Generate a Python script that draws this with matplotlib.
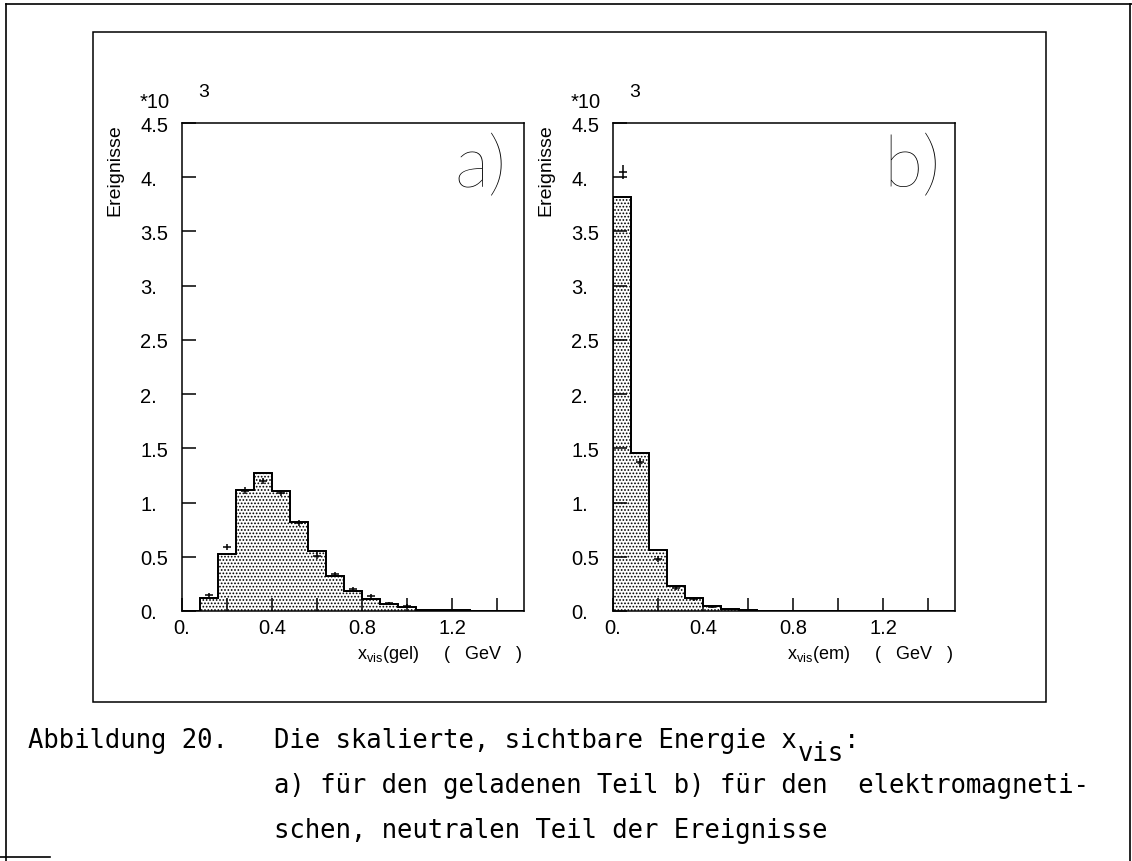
import matplotlib
matplotlib.use("Agg")
import matplotlib.pyplot as plt
from matplotlib.lines import Line2D
from matplotlib.patches import Rectangle

W, H = 1132, 862

# histogram binning (GeV), 0.08 wide
bin_edges = [0.0, 0.08, 0.16, 0.24, 0.32, 0.40, 0.48, 0.56, 0.64, 0.72,
             0.80, 0.88, 0.96, 1.04, 1.12, 1.20, 1.28, 1.36, 1.44, 1.52]

# a) charged part, units of 10^3 events
gel_counts = [0.0, 0.12, 0.53, 1.12, 1.27, 1.11, 0.82, 0.55, 0.32, 0.18,
              0.11, 0.065, 0.04, 0.012, 0.005, 0.005, 0.003, 0.003, 0.003]
gel_pts_x = [0.12, 0.20, 0.28, 0.36, 0.44, 0.52, 0.60, 0.68, 0.76, 0.84, 0.92, 1.00]
gel_pts_y = [0.15, 0.59, 1.11, 1.20, 1.09, 0.81, 0.51, 0.34, 0.20, 0.14, 0.07, 0.05]
gel_pts_err = [0.02, 0.03, 0.03, 0.03, 0.03, 0.03, 0.03, 0.02, 0.02, 0.02, 0.015, 0.015]

# b) electromagnetic, neutral part
em_counts = [3.82, 1.46, 0.56, 0.23, 0.12, 0.05, 0.02, 0.005, 0.003, 0.003,
             0.003, 0.003, 0.003, 0.003, 0.003, 0.003, 0.003, 0.003, 0.003]
em_pts_x = [0.045, 0.12, 0.20, 0.28, 0.36, 0.44]
em_pts_y = [4.05, 1.37, 0.48, 0.21, 0.11, 0.04]
em_pts_err = [0.065, 0.045, 0.03, 0.02, 0.015, 0.01]

y_ticks = [0.0, 0.5, 1.0, 1.5, 2.0, 2.5, 3.0, 3.5, 4.0, 4.5]
y_labels = ["0.", "0.5", "1.", "1.5", "2.", "2.5", "3.", "3.5", "4.", "4.5"]
x_major = [0.0, 0.4, 0.8, 1.2]
x_labels = ["0.", "0.4", "0.8", "1.2"]
x_minor = [0.2, 0.6, 1.0, 1.4]

plt.rcParams["font.family"] = ["Liberation Sans", "DejaVu Sans"]
plt.rcParams["mathtext.default"] = "regular"
plt.rcParams["hatch.linewidth"] = 0.8


def fx(px):
    return px / W


def fy(py):
    return 1 - py / H


fig = plt.figure(figsize=(W / 100, H / 100), dpi=100)


def draw_panel(left_px, counts, px, py, perr, xname, letter):
    ax = fig.add_axes([fx(left_px), fy(612), 342 / W, 488 / H])
    ax.stairs(counts, bin_edges, fill=True, facecolor="white",
              edgecolor="black", hatch=".....", linewidth=1.3)
    ax.stairs(counts, bin_edges, color="black", linewidth=1.3)
    ax.errorbar(px, py, xerr=0.018, yerr=perr, fmt="none",
                ecolor="black", elinewidth=1.1, capsize=0)

    ax.set_xlim(0, 1.52)
    ax.set_ylim(0, 4.5)
    ax.set_yticks(y_ticks)
    ax.set_yticklabels(y_labels)
    ax.set_xticks(x_major)
    ax.set_xticklabels(x_labels)
    ax.set_xticks(x_minor, minor=True)
    ax.tick_params(axis="both", which="both", direction="in", width=1.1,
                   top=False, right=False, labelsize=14.5)
    ax.tick_params(axis="x", which="both", length=9.5, pad=5)
    ax.tick_params(axis="y", length=10, pad=30)
    for lab in ax.get_yticklabels():
        lab.set_horizontalalignment("left")
    for sp in ax.spines.values():
        sp.set_linewidth(1.1)

    # *10^3 marker, y title, x title, panel letter
    fig.text(fx(left_px - 12), fy(103), "*10", ha="right", va="center", fontsize=14.5)
    fig.text(fx(left_px + 22), fy(93), "3", ha="center", va="center", fontsize=14)
    fig.text(fx(left_px - 67), fy(124), "Ereignisse", rotation=90,
             ha="center", va="top", fontsize=14)
    fig.text(fx(left_px + 340), fy(655),
             r"x$_{vis}$(" + xname + ")     (   GeV   )",
             ha="right", va="center", fontsize=13)
    fig.text(fx(left_px + 299), fy(168), letter, ha="center", va="center",
             fontsize=52, family=["Lato", "DejaVu Sans"], fontweight="light")
    return ax


draw_panel(182, gel_counts, gel_pts_x, gel_pts_y, gel_pts_err, "gel", "a)")
draw_panel(613, em_counts, em_pts_x, em_pts_y, em_pts_err, "em", "b)")

# frame around the figure
fig.add_artist(Rectangle((fx(93), fy(703)), (1046 - 93) / W, (703 - 33) / H,
                         transform=fig.transFigure, fill=False, lw=1.1,
                         edgecolor="black"))

# page border
for xs, ys in [([6, 6], [5, 862]), ([6, 1132], [5, 5]), ([1130, 1130], [5, 862]),
               ([0, 50], [858, 858])]:
    fig.add_artist(Line2D([fx(x) for x in xs], [fy(y) for y in ys],
                          transform=fig.transFigure, color="black", lw=1.2))

# caption in typewriter font
cw = 15.4
cap_fs = cw / 0.602 * 0.72
mono = ["DejaVu Sans Mono"]
col0 = 28 + 16 * cw
fig.text(fx(28), fy(748), "Abbildung 20.", family=mono, fontsize=cap_fs, va="baseline")
fig.text(fx(col0), fy(748), "Die skalierte, sichtbare Energie x",
         family=mono, fontsize=cap_fs, va="baseline")
fig.text(fx(col0 + 34 * cw), fy(761), "vis", family=mono, fontsize=cap_fs, va="baseline")
fig.text(fx(col0 + 37 * cw), fy(748), ":", family=mono, fontsize=cap_fs, va="baseline")
fig.text(fx(col0), fy(793), "a) für den geladenen Teil b) für den  elektromagneti-",
         family=mono, fontsize=cap_fs, va="baseline")
fig.text(fx(col0), fy(838), "schen, neutralen Teil der Ereignisse",
         family=mono, fontsize=cap_fs, va="baseline")

fig.savefig("out.png", dpi=100)
